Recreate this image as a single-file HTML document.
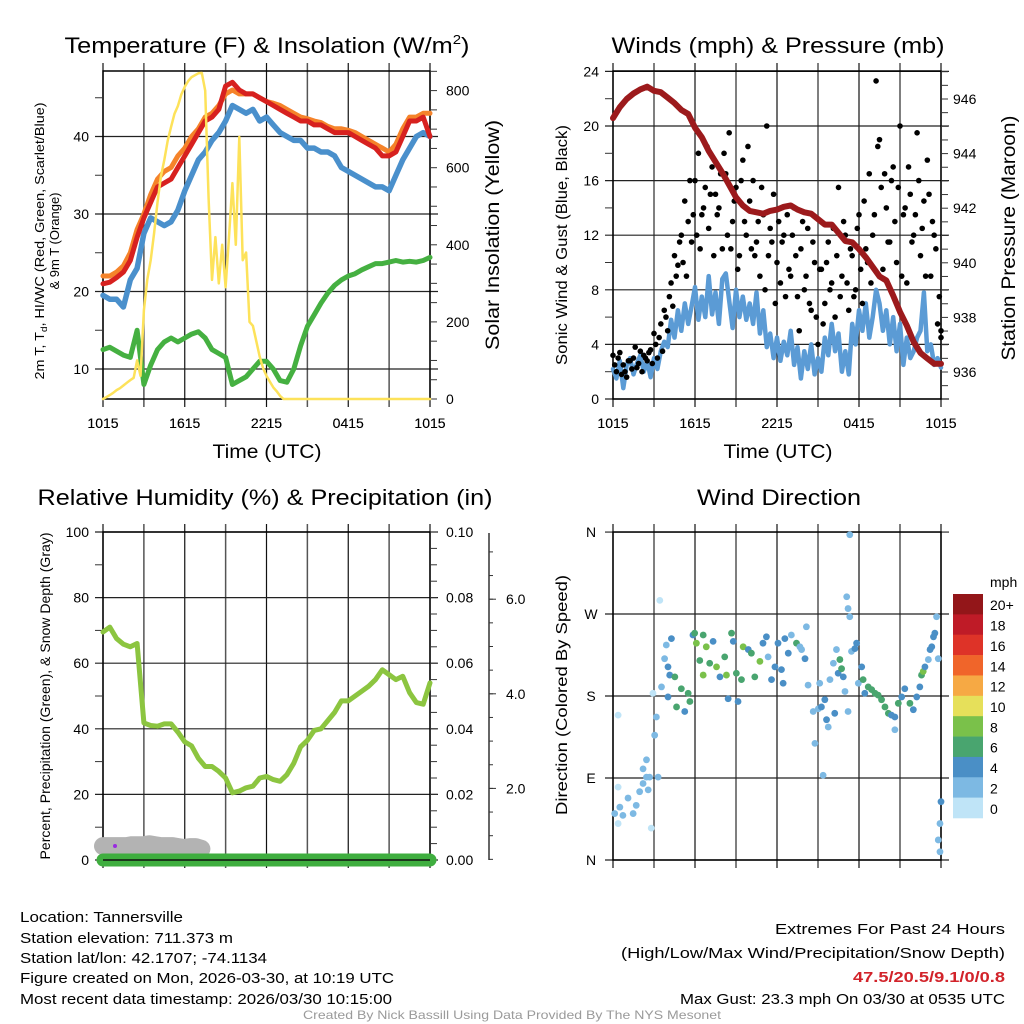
<!DOCTYPE html>
<html><head><meta charset="utf-8">
<style>
html,body{margin:0;padding:0;background:#fff;}
svg{display:block;font-family:"Liberation Sans",sans-serif;}
</style></head>
<body>
<svg id="fig" width="1024" height="1024" viewBox="0 0 1024 1024" xmlns="http://www.w3.org/2000/svg">
<rect x="0" y="0" width="1024" height="1024" fill="#fff"/>
<g id="p1"></g>
<g id="p2"></g>
<g id="p3"></g>
<g id="p4"></g>

<text x="267" y="53" font-size="22" text-anchor="middle" textLength="405" lengthAdjust="spacingAndGlyphs">Temperature (F) &amp; Insolation (W/m<tspan font-size="13" dy="-9">2</tspan><tspan dy="9">)</tspan></text>
<text x="778" y="53" font-size="22" text-anchor="middle" textLength="333" lengthAdjust="spacingAndGlyphs">Winds (mph) &amp; Pressure (mb)</text>
<text x="265" y="505" font-size="22" text-anchor="middle" textLength="455" lengthAdjust="spacingAndGlyphs">Relative Humidity (%) &amp; Precipitation (in)</text>
<text x="779" y="505" font-size="22" text-anchor="middle" textLength="164" lengthAdjust="spacingAndGlyphs">Wind Direction</text>

<text x="267" y="458" font-size="19" text-anchor="middle" textLength="109" lengthAdjust="spacingAndGlyphs">Time (UTC)</text>
<text x="778" y="458" font-size="19" text-anchor="middle" textLength="109" lengthAdjust="spacingAndGlyphs">Time (UTC)</text>

<text transform="translate(44,241) rotate(-90)" font-size="13" text-anchor="middle" textLength="277" lengthAdjust="spacingAndGlyphs">2m T, T<tspan font-size="9" dy="3">d</tspan><tspan dy="-3">, HI/WC (Red, Green, Scarlet/Blue)</tspan></text>
<text transform="translate(59,241) rotate(-90)" font-size="13" text-anchor="middle" textLength="97" lengthAdjust="spacingAndGlyphs">&amp; 9m T (Orange)</text>
<text transform="translate(499,235) rotate(-90)" font-size="19" text-anchor="middle" textLength="230" lengthAdjust="spacingAndGlyphs">Solar Insolation (Yellow)</text>
<text transform="translate(567,245) rotate(-90)" font-size="16" text-anchor="middle" textLength="240" lengthAdjust="spacingAndGlyphs">Sonic Wind &amp; Gust (Blue, Black)</text>
<text transform="translate(1015,238) rotate(-90)" font-size="19" text-anchor="middle" textLength="245" lengthAdjust="spacingAndGlyphs">Station Pressure (Maroon)</text>
<text transform="translate(50,696) rotate(-90)" font-size="14" text-anchor="middle" textLength="327" lengthAdjust="spacingAndGlyphs">Percent, Precipitation (Green), &amp; Snow Depth (Gray)</text>
<text transform="translate(567,695) rotate(-90)" font-size="16" text-anchor="middle" textLength="240" lengthAdjust="spacingAndGlyphs">Direction (Colored By Speed)</text>

<g font-size="15">
<text x="20" y="922" textLength="163" lengthAdjust="spacingAndGlyphs">Location: Tannersville</text>
<text x="20" y="943" textLength="213" lengthAdjust="spacingAndGlyphs">Station elevation: 711.373 m</text>
<text x="20" y="963" textLength="247" lengthAdjust="spacingAndGlyphs">Station lat/lon: 42.1707; -74.1134</text>
<text x="20" y="983" textLength="374" lengthAdjust="spacingAndGlyphs">Figure created on Mon, 2026-03-30, at 10:19 UTC</text>
<text x="20" y="1004" textLength="372" lengthAdjust="spacingAndGlyphs">Most recent data timestamp: 2026/03/30 10:15:00</text>
</g>
<g font-size="15" text-anchor="end">
<text x="1005" y="934" textLength="230" lengthAdjust="spacingAndGlyphs">Extremes For Past 24 Hours</text>
<text x="1005" y="958" textLength="384" lengthAdjust="spacingAndGlyphs">(High/Low/Max Wind/Precipitation/Snow Depth)</text>
<text x="1005" y="982" fill="#d2232a" font-weight="bold" textLength="152" lengthAdjust="spacingAndGlyphs">47.5/20.5/9.1/0/0.8</text>
<text x="1005" y="1004" textLength="325" lengthAdjust="spacingAndGlyphs">Max Gust: 23.3 mph On 03/30 at 0535 UTC</text>
</g>
<text x="512" y="1019" font-size="12" fill="#9a9a9a" text-anchor="middle" textLength="418" lengthAdjust="spacingAndGlyphs">Created By Nick Bassill Using Data Provided By The NYS Mesonet</text>
</svg>
<script>
// ---------- data ----------
const timeTicks = ["1015","1615","2215","0415","1015"];
const tempRed = [21,21.2,21.8,22.5,24,27,29.5,31.5,33.5,34,34.5,36,37.5,39,40.5,42,42.5,43.5,46.5,47,46,45.5,45.5,45,44.5,44,43.5,43,42.5,42,42,41.5,41.5,41,40.5,40.5,40.5,40,39.5,39,38.5,37.5,37.5,38,40,42,42,42.5,40];
const tempOrange = [22,22,22.5,23.3,25,28,30,32.5,34.5,35.5,36,37.5,38.5,40,41,42.5,43,44,45.5,46,45.5,45.5,45.5,45,44.5,44.3,44,43.5,43,42.5,42.3,42,41.8,41.3,41,41,40.8,40.5,40,39.5,39,38.5,38,39,41,42.5,42.5,43,43];
const tempBlue = [19.5,19,19,18,21.5,23,27.5,29.5,29,28.5,29,30.5,33,35,37,38,39.5,40.5,42,44,43.5,43,43.5,42,42.5,41.5,40.5,40,39.5,39.5,38.5,38.5,38,38,37.5,36,35.5,35,34.5,34,33.5,33.5,33,35,37,38.5,40,40.5,40];
const dewGreen = [12.5,12.8,12.3,11.8,11.5,15,8,10.5,12.5,13.5,14,13.5,14,14.5,14.8,14,12.5,12,11.5,8,8.5,9,10,11,11,10,8.5,8.3,10,13,15.5,17,18.5,19.8,20.8,21.5,22,22.3,22.8,23.2,23.6,23.6,23.8,24,23.8,23.9,23.8,24,24.4];
const solar = [0,5,10,16,23,28,35,42,49,55,100,60,230,310,360,430,510,577,620,670,706,740,760,790,810,825,835,840,845,846,800,520,309,420,300,400,290,420,560,400,680,360,380,200,190,150,110,80,60,45,30,20,8,0];
const tempTicks = [10,20,30,40];
const solarTicks = [0,200,400,600,800];

const windSpeed = [2.2,1.5,2.8,0.8,2.5,3.0,1.8,2.6,3.2,2.0, 2.8,1.6,3.0,2.2,3.5,4.2,3.8,5.8,4.5,6.5, 5.0,7.0,5.5,6.8,8.2,5.8,7.5,6.0,9.0,6.2, 7.8,5.5,8.8,9.2,7.2,5.2,8.0,6.0,7.5,5.8, 7.0,5.5,7.8,4.8,6.5,3.8,4.8,3.0,4.5,2.8, 4.2,3.2,5.0,2.5,3.8,1.5,3.5,2.2,4.0,1.8, 3.0,2.0,4.5,3.2,5.5,3.5,4.8,2.0,3.5,1.8, 5.5,4.0,6.5,5.0,7.0,4.5,6.0,8.0,7.0,5.0, 6.5,4.0,6.0,3.5,5.5,2.5,4.5,3.0,3.5,4.5, 5.0,7.8,3.5,4.0,2.5,3.0,2.3];
const gustA = [3.2,2.0,3.4,2.5,1.6,2.8,3.0,2.3,3.5,3.2, 2.8,3.6,4.8,3.0,5.5,6.5,5.0,8.5,10.5,9.8, 12.0,14.5,13.0,11.5,16.0,18.0,13.5,15.5,12.5,17.0, 15.0,14.0,11.0,16.5,19.5,13.0,15.5,10.5,17.5,12.0, 14.5,16.0,11.5,9.0,13.5,20.0,12.5,15.0,10.0,8.5, 12.0,13.5,9.0,14.0,7.5,11.0,8.0,12.5,6.5,10.0, 4.0,9.5,7.0,11.5,8.5,6.0,15.5,9.0,12.0,6.5, 10.5,8.0,13.5,7.0,11.0,16.5,12.0,23.3,19.0,9.5, 14.0,11.5,17.0,10.0,20.0,13.5,8.5,15.0,12.0,19.5, 10.5,14.5,17.5,9.0,12.0,5.5,4.5];
const gustB = [2.5,3.0,1.8,2.0,2.8,2.2,3.8,2.6,2.0,3.0, 3.4,2.6,4.0,4.5,3.5,6.0,7.5,6.8,9.0,11.5, 10.0,9.0,16.0,13.5,12.0,11.0,14.0,18.5,15.0,10.5, 13.5,16.5,18.0,12.0,11.0,14.5,9.5,16.0,13.0,18.5, 11.0,10.5,13.0,15.5,8.0,10.5,11.5,7.0,13.0,11.5, 7.5,9.5,12.0,10.5,5.0,13.0,9.0,7.0,11.5,6.0, 9.5,5.5,10.0,8.0,12.5,10.5,7.5,13.0,8.5,11.0, 7.5,12.5,9.5,14.5,10.0,8.5,13.5,18.5,15.5,16.5, 11.5,16.0,13.0,15.5,9.0,14.0,17.0,11.5,13.5,16.0, 12.5,9.0,15.0,13.0,11.0,7.5,5.0];
const pressure = [945.3,945.7,946.0,946.2,946.35,946.45,946.3,946.25,946.05,945.85,945.6,945.45,944.95,944.6,944.1,943.7,943.3,942.85,942.4,942.1,941.9,941.85,941.8,941.9,941.95,942.05,942.1,941.95,941.85,941.8,941.6,941.4,941.4,941.1,940.8,940.75,940.5,940.2,939.85,939.5,939.35,938.8,938.2,937.7,937.1,936.7,936.5,936.3,936.3];
const windTicks = [0,4,8,12,16,20,24];
const pressTicks = [936,938,940,942,944,946];

const rhGreen = [69.5,71,67.5,65.8,65,66,41.8,41,40.8,41.5,41.5,39,36,34.8,31,28.5,28.5,27,25,20.5,21,22,22.5,25,25.5,24.5,24,26,29.5,34.5,36.5,39.5,40,42.5,45,48.5,48.5,50,51.5,53,55,58,56.5,55,56,51,48,47.5,54];
const snowDepth = [0.78,0.78,0.78,0.78,0.78,0.8,0.8,0.8,0.82,0.8,0.78,0.78,0.78,0.76,0.74,0.76,0.76,0.72];
const precip = [0,0,0,0,0,0,0,0,0,0,0,0,0,0,0,0,0];
const rhTicks = [0,20,40,60,80,100];
const precipTicks = ["0.00","0.02","0.04","0.06","0.08","0.10"];
const snowTicks = [2,4,6];

const dirIdx = [0.5,1.5,2,2.9,4.4,5.9,6.8,7.8,8.8,9.8,8.8,9.8,10.3,10.7,11.2,11.7,12.2,12.7,13.2,13.7,1.5,1.5,14.2,15.1,15.6,16.1,17.1,16.6,16.1,18.1,18.6,20,21,22,22.5,23.4,23.9,24.4,25.4,26.4,26.4,27.3,28.3,29.3,30.3,31.3,32.7,33.2,33.7,34.7,35.2,36.1,36.6,37.6,38.1,39.6,40.5,41.5,43,43.9,44.9,45.4,46.4,47.4,48.3,49.3,49.8,50.3,51.3,52.2,53.7,54.7,55.2,56.2,56.6,57.1,58.6,59.1,60.1,60.5,61,61.5,62,62.5,63,63.5,64.5,64.9,65.4,65.9,66.4,66.9,67.4,67.9,68.4,68.8,69.3,69.3,68.8,69.8,70.8,71.3,71.8,72.8,73.2,73.7,74.7,75.7,76.7,77.6,78.6,79.6,80.6,81.5,82.5,82.5,83.5,84.5,85.4,86.9,87.9,88.9,89.8,90.3,90.8,91.3,92.3,92.8,93.3,93.8,94.2,94.7,95.2,96,95.7,95.2,95.7];
const dirDeg = [51,40,58,49,68,51,60,75,84,91,100,110,77,91,35,183,137,157,91,285,159,80,190,221,236,212,243,203,179,201,168,188,163,183,174,247,249,238,219,247,203,234,216,240,212,201,223,203,177,249,240,205,174,198,234,231,227,201,218,238,245,223,198,212,238,209,194,243,227,247,238,234,231,221,256,192,163,128,166,194,168,93,176,154,146,198,216,161,231,205,220,210,201,185,289,276,357,267,163,229,232,238,194,212,198,183,190,187,183,181,176,168,161,159,157,143,172,179,188,172,165,179,190,203,207,212,220,231,234,245,249,267,221,64,40,22,9];
const dirSpd = [3,1,3,3,3,3,3,3,3,3,3,3,3,3,1,1,3,3,3,1,1,1,3,3,3,5,5,5,5,7,7,7,5,7,7,5,7,9,7,7,9,9,7,5,9,5,7,9,5,7,5,7,5,7,9,5,7,7,9,5,5,3,5,5,5,5,5,5,5,3,7,3,3,5,3,3,3,3,3,3,5,3,5,5,3,3,3,5,3,5,7,7,5,3,3,3,3,3,3,3,5,5,3,5,7,5,7,7,7,7,7,7,7,5,5,3,7,5,5,7,5,5,5,7,9,5,3,5,5,5,5,3,3,5,3,3,3];
const speedBins = ["20+","18","16","14","12","10","8","6","4","2","0"];
const dirTicks = ["N","E","S","W","N"];

// ---------- helpers ----------
const NS = "http://www.w3.org/2000/svg";
function mk(parent, tag, attrs){
  const el = document.createElementNS(NS, tag);
  for (const k in attrs) el.setAttribute(k, attrs[k]);
  parent.appendChild(el);
  return el;
}
const L1 = 103, R1 = 430, L2 = 613, R2 = 941;
const T1 = 71, B1 = 399, T3 = 532, B3 = 860;
const xA = i => L1 + i * (R1 - L1) / 96;
const xB = i => L2 + i * (R2 - L2) / 96;
const yTemp = v => 369 - (v - 10) * 7.75;
const ySolar = v => 399 - v * 0.3855;
const yWind = v => 399 - v * 13.65;
const yPress = v => 372 - (v - 936) * 27.3;
const yRH = v => 860 - v * 3.28;
const yPrecip = v => 860 - v * 3280;
const ySnow = v => 883 - v * 47.3;
const yDir = d => 860 - d * 0.911;

function frame(g, L, R, T, B, hvals, name){
  // vertical grid
  for (let k = 0; k <= 8; k++){
    const x = L + k * (R - L) / 8;
    const ln = mk(g, "line", {x1:x, x2:x, y1:T-8, y2:B+8, stroke: k%2 ? "#555" : "#111", "stroke-width": k%2 ? 1.5 : 1.2});
    
    
  }
  hvals.forEach((y, k) => {
    const ln = mk(g, "line", {x1:L-8, x2:R+8, y1:y, y2:y, stroke:"#222", "stroke-width":1.2});
    
    
  });
  const fr = mk(g, "rect", {x:L, y:T, width:R-L, height:B-T, fill:"none", stroke:"#000", "stroke-width":1.5});
  
  
}
function ticks(g, x0, dir, ys, len, name){
  ys.forEach(y => {
    const t = mk(g, "line", {x1:x0, x2:x0 + dir*len, y1:y, y2:y, stroke:"#333", "stroke-width":1});
    
    
  });
}
function label(g, x, y, s, anchor, size, name){
  const t = mk(g, "text", {x:x, y:y, "text-anchor":anchor, "font-size":size, "dominant-baseline":"central"});
  t.textContent = s;
  
  
  return t;
}
function poly(g, pts, color, w, name){
  const p = mk(g, "polyline", {points: pts.map(p => p[0].toFixed(1)+","+p[1].toFixed(1)).join(" "), fill:"none", stroke:color, "stroke-width":w, "stroke-linejoin":"round", "stroke-linecap":"round"});
  
  
  return p;
}
function xlabels(g, xf, name){
  timeTicks.forEach((s, k) => label(g, xf(k * 24), 423, s, "middle", 14, name));
}

// ---------- panel 1 ----------
const g1 = document.getElementById("p1");
frame(g1, L1, R1, T1, B1, tempTicks.map(yTemp), "temp");
tempTicks.forEach(v => label(g1, 89, yTemp(v), String(v), "end", 14, "temp-y-tick-label"));
ticks(g1, L1, -1, [15,25,35,45].map(yTemp), 8, "temp-minor-tick");
const solMinor = []; for (let v = 0; v <= 850; v += 50) solMinor.push(ySolar(v));
ticks(g1, R1, 1, solMinor, 7, "solar-tick");
solarTicks.forEach(v => label(g1, 446, ySolar(v), String(v), "start", 14, "solar-tick-label"));
xlabels(g1, xA, "temp-x-tick-label");
poly(g1, dewGreen.map((v,k) => [xA(2*k), yTemp(v)]), "#45b041", 5, "dewpoint-line");
poly(g1, tempBlue.map((v,k) => [xA(2*k), yTemp(v)]), "#4a90cc", 5.5, "windchill-line");
poly(g1, tempOrange.map((v,k) => [xA(2*k), yTemp(v)]), "#f5832a", 5, "temp-9m-line");
poly(g1, tempRed.map((v,k) => [xA(2*k), yTemp(v)]), "#d7211f", 5, "temp-2m-line");
poly(g1, solar.map((v,k) => [xA(k), ySolar(v)]).concat([[xA(96), ySolar(0)]]), "#fde25a", 2.5, "solar-line");

// ---------- panel 2 ----------
const g2 = document.getElementById("p2");
frame(g2, L2, R2, T1, B1, windTicks.map(yWind), "winds");
windTicks.forEach(v => label(g2, 599, yWind(v), String(v), "end", 14, "wind-y-tick-label"));
ticks(g2, L2, -1, [2,6,10,14,18,22].map(yWind), 8, "wind-minor-tick");
const pMinor = []; for (let v = 935.5; v <= 947; v += 0.5) pMinor.push(yPress(v));
ticks(g2, R2, 1, pMinor, 7, "pressure-tick");
pressTicks.forEach(v => label(g2, 953, yPress(v), String(v), "start", 14, "pressure-tick-label"));
xlabels(g2, xB, "wind-x-tick-label");
poly(g2, windSpeed.map((v,k) => [xB(k), yWind(v)]), "#5b9bd5", 4.5, "sonic-wind-line");
[gustA, gustB].forEach((arr, s) => arr.forEach((v, k) => {
  const c = mk(g2, "circle", {cx: xB(Math.min(96, k + s*0.5)), cy: yWind(v), r: 2.8, fill:"#000"});
  
  
}));
poly(g2, pressure.map((v,k) => [xB(2*k), yPress(v)]), "#9c1a1c", 6, "pressure-line");

// ---------- panel 3 ----------
const g3 = document.getElementById("p3");
frame(g3, L1, R1, T3, B3, rhTicks.map(yRH), "humidity");
rhTicks.forEach(v => label(g3, 89, yRH(v), String(v), "end", 14, "rh-y-tick-label"));
ticks(g3, L1, -1, [10,30,50,70,90].map(yRH), 8, "rh-minor-tick");
const prMinor = []; for (let k = 0; k <= 20; k++) prMinor.push(yPrecip(k*0.005));
ticks(g3, R1, 1, prMinor, 7, "precip-tick");
precipTicks.forEach(s => label(g3, 446, yPrecip(parseFloat(s)), s, "start", 14, "precip-tick-label"));
xlabels(g3, xA, "rh-x-tick-label");
const sAx = mk(g3, "line", {x1:489, x2:489, y1:533, y2:860, stroke:"#333", "stroke-width":1.5});


const snMinor = []; for (let v = 0.5; v <= 7; v += 0.5) if (ySnow(v) >= 533 && ySnow(v) <= 860) snMinor.push(ySnow(v));
ticks(g3, 489, 1, snMinor, 4, "snow-minor-tick");
ticks(g3, 489, 1, snowTicks.map(ySnow), 7, "snow-tick");
snowTicks.forEach(v => label(g3, 506, ySnow(v), v.toFixed(1), "start", 14, "snow-tick-label"));
poly(g3, snowDepth.map((v,k) => [xA(k*1.7), ySnow(v)]), "#b3b3b3", 18, "snow-depth-line");
const pd = mk(g3, "circle", {cx:115, cy:846, r:2, fill:"#9a2be0"});


poly(g3, precip.map((v,k) => [xA(k*6), yPrecip(v)]), "#3fae3f", 13, "precipitation-line");
const bl = mk(g3, "line", {x1:L1, x2:R1, y1:860, y2:860, stroke:"#111", "stroke-width":1.5});


poly(g3, rhGreen.map((v,k) => [xA(2*k), yRH(v)]), "#8cc540", 5, "relative-humidity-line");

// ---------- panel 4 ----------
const g4 = document.getElementById("p4");
frame(g4, L2, R2, T3, B3, [0,90,180,270,360].map(yDir), "direction");
dirTicks.forEach((s,k) => label(g4, 591, yDir(k*90), s, "middle", 14, "direction-tick-label"));
xlabels(g4, xB, "direction-x-tick-label");
const binColors = ["#931619","#bf1b27","#de3328","#f0652a","#f6a944","#e6e05a","#7ac14a","#49a56f","#4a8fc6","#7db9e3","#bfe4f7"];
function spdColor(s){ const b = Math.min(10, Math.floor(s/2)); return binColors[10-b]; }
dirIdx.forEach((t,k) => {
  const c = mk(g4, "circle", {cx:xB(Math.min(96,t)), cy:yDir(dirDeg[k]), r:3.4, fill:spdColor(dirSpd[k])});
  
  
});
// colorbar
const cbH = 224/11;
speedBins.forEach((s,k) => {
  const r = mk(g4, "rect", {x:953, y:594 + k*cbH, width:30, height:cbH+0.3, fill:binColors[k]});
  
  
  label(g4, 990, 594 + k*cbH + cbH/2 + 1, s, "start", 14, "colorbar-label");
});
label(g4, 990, 582, "mph", "start", 14, "colorbar-title");
</script>
</body></html>
